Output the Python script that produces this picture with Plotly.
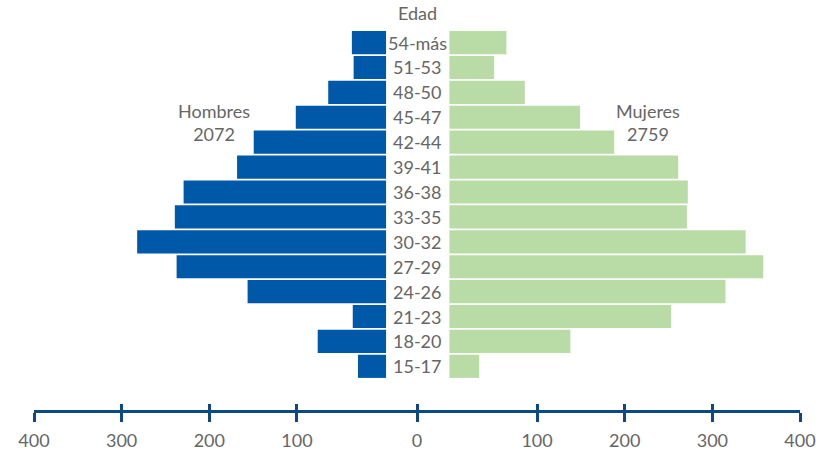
import plotly.graph_objects as go

# ---- data ----
edades = ["15-17", "18-20", "21-23", "24-26", "27-29", "30-32", "33-35",
          "36-38", "39-41", "42-44", "45-47", "48-50", "51-53", "54-más"]
hombres = [32, 78, 38, 158, 239, 284, 241, 231, 170, 151, 103, 66, 37, 39]
mujeres = [34, 138, 253, 315, 358, 338, 271, 272, 261, 188, 149, 86, 51, 65]
total_hombres = 2072
total_mujeres = 2759
tick_vals = [400, 300, 200, 100, 0, 100, 200, 300, 400]

GAP = 37      # half-width of the central label column, in axis units
GAP_M = 35.3  # men's bars start slightly closer to the centre
BLUE = "#0059a8"
GREEN = "#b9dba5"
AXIS = "#0d4a85"
GREY = "#666666"
FONT = "Lato"
FS = 18

ypos = list(range(len(edades)))

fig = go.Figure()
fig.add_trace(go.Bar(
    y=ypos, x=[-v for v in hombres], base=[-GAP_M] * len(hombres),
    orientation="h", marker=dict(color=BLUE, line=dict(width=0)),
    hoverinfo="skip", showlegend=False))
fig.add_trace(go.Bar(
    y=ypos, x=mujeres, base=[GAP] * len(mujeres),
    orientation="h", marker=dict(color=GREEN, line=dict(width=0)),
    hoverinfo="skip", showlegend=False))
# invisible trace for the overlay axis carrying the inner tick halves
fig.add_trace(go.Scatter(x=[0], y=[0], xaxis="x2", mode="markers",
                         marker=dict(opacity=0), hoverinfo="skip",
                         showlegend=False))

tv = []
for i, t in enumerate(tick_vals):
    if i < 4:
        tv.append(-(GAP + t))
    elif i == 4:
        tv.append(0)
    else:
        tv.append(GAP + t)
tt = [str(t) for t in tick_vals]

xr = [-(GAP + 400), GAP + 400]

for y, lab in zip(ypos, edades):
    fig.add_annotation(x=0, y=y, text=lab, showarrow=False,
                       font=dict(family=FONT, size=FS, color=GREY),
                       xanchor="center", yanchor="middle")
fig.add_annotation(x=0, y=len(edades) + 0.17, text="Edad", showarrow=False,
                   font=dict(family=FONT, size=FS, color=GREY),
                   xanchor="center", yanchor="middle")
fig.add_annotation(x=-(GAP + 195), y=9.8,
                   text=f"Hombres<br>{total_hombres}", showarrow=False,
                   font=dict(family=FONT, size=FS, color=GREY),
                   xanchor="center", yanchor="middle", align="center")
fig.add_annotation(x=GAP + 226, y=9.8,
                   text=f"Mujeres<br>{total_mujeres}", showarrow=False,
                   font=dict(family=FONT, size=FS, color=GREY),
                   xanchor="center", yanchor="middle", align="center")

fig.update_layout(
    width=828, height=451,
    margin=dict(l=34, r=28, t=0, b=38),
    paper_bgcolor="white", plot_bgcolor="white",
    barmode="overlay", bargap=0.07,
    font=dict(family=FONT, color=GREY),
    xaxis=dict(range=xr, tickvals=tv, ticktext=tt, showgrid=False,
               zeroline=False, showline=True, linecolor=AXIS, linewidth=3,
               ticks="outside", ticklen=9, tickwidth=3, tickcolor=AXIS,
               tickfont=dict(family=FONT, size=FS, color=GREY),
               ticklabelstandoff=3, fixedrange=True),
    xaxis2=dict(range=xr, overlaying="x", side="bottom", anchor="y",
                tickvals=tv, showticklabels=False, showgrid=False,
                zeroline=False, showline=False, ticks="inside",
                ticklen=6, tickwidth=3, tickcolor=AXIS),
    yaxis=dict(range=[-1.754, 14.71], showgrid=False, zeroline=False,
               showticklabels=False, showline=False, ticks="",
               fixedrange=True),
)

fig.write_html("out.html",
               config={"displayModeBar": False},
               post_script="document.body.style.margin='0';"
                           "document.body.style.overflow='hidden';")
